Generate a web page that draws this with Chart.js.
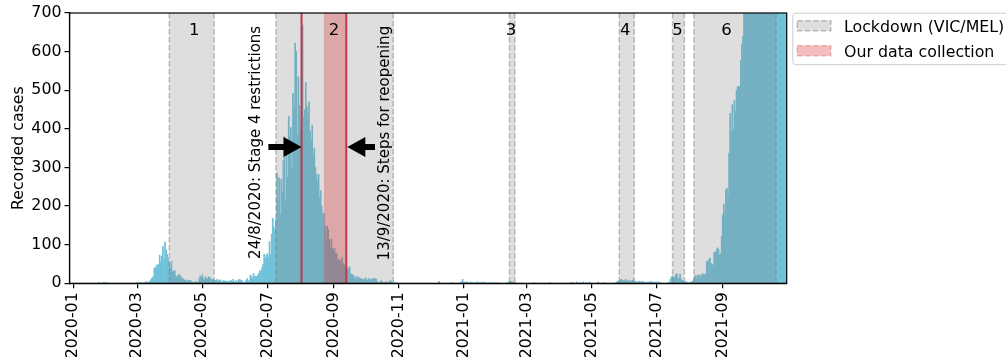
<!DOCTYPE html>
<html>
<head>
<meta charset="utf-8">
<script src="https://cdn.jsdelivr.net/npm/chart.js@4.4.1/dist/chart.umd.min.js"></script>
<style>
  html, body { margin: 0; padding: 0; background: #fff; }
</style>
</head>
<body>
<canvas id="cases" width="1006" height="364"></canvas>
<script>
// daily recorded cases, one row per month starting at firstMonth
var firstMonth = '2020-01';
var casesByMonth = [
   [0,0,0,0,0,0,0,0,0,0, 0,0,0,0,0,0,0,0,0,0, 0,0,0,0,1,0,0,0,1,0, 1],
   [1,0,0,0,0,0,0,0,0,0, 0,0,0,0,0,0,0,0,0,0, 0,0,0,0,0,0,0,0,1],
   [2,0,2,1,0,1,0,1,4,3, 1,3,6,10,14,17,40,38,47,45, 49,73,55,70,95,60,107,86,75,65, 52],
   [39,56,31,30,33,20,14,19,23,20, 17,11,12,8,9,3,8,4,8,7, 4,2,1,3,4,3,2,11,19,14],
   [22,13,8,17,13,10,17,15,10,11, 7,9,8,8,11,7,7,9,5,3, 8,5,6,5,3,6,4,8,5,10, 4],
   [4,8,3,9,10,8,7,3,2,3, 8,12,5,7,21,18,13,25,16,19, 17,20,26,33,30,41,49,75,64,73],
   [77,66,108,74,127,168,147,134,165,285, 216,273,177,270,238,317,380,217,363,275, 432,380,403,300,492,459,622,600,384,535, 460],
   [397,430,669,429,450,520,458,440,470,394, 372,410,331,350,300,280,265,282,222,240, 200,179,182,147,116,148,140,113,94,114, 90],
   [85,90,76,78,59,63,55,60,66,51, 48,45,42,38,35,43,25,24,21,20, 14,11,18,15,14,12,12,10,9,10],
   [15,8,9,12,7,11,5,13,10,12, 11,4,1,3,3,7,2,2,1,4, 1,3,0,7,5,3,0,2,0,1, 0],
   [0,0,0,0,0,0,0,0,0,0, 0,0,0,0,0,0,0,0,0,0, 0,0,0,0,0,0,0,0,0,0],
   [0,0,0,0,0,0,0,0,5,0, 0,0,0,0,0,0,0,0,0,0, 2,0,0,0,0,0,0,0,1,3, 10],
   [3,3,2,4,1,0,2,3,0,1, 2,0,1,4,0,2,1,0,3,0, 1,2,0,0,1,0,2,0,0,1, 0],
   [0,1,0,0,0,0,0,0,0,0, 1,2,3,5,4,3,2,1,0,0, 0,0,0,0,0,0,0,0],
   [0,0,0,0,0,0,0,1,0,0, 0,0,0,0,0,0,0,0,0,0, 0,0,1,0,0,0,0,0,0,0, 0],
   [0,0,0,0,0,0,0,0,0,0, 0,3,0,2,0,0,4,0,0,2, 0,0,3,0,0,2,0,0,3,0],
   [0,0,0,0,0,0,3,0,0,0, 0,0,2,0,0,0,0,0,0,0, 0,0,0,2,4,6,5,8,10,6, 8],
   [7,10,5,6,8,4,6,7,9,5, 4,5,3,4,6,2,5,3,4,2, 3,2,4,1,3,5,2,3,0,3],
   [3,2,3,0,2,0,0,0,0,0, 0,2,3,10,17,19,13,16,22,26, 14,12,24,11,8,6,5,3,4,2, 1],
   [1,3,5,6,11,20,12,20,21,21, 15,21,25,22,24,20,57,55,61,65, 52,50,45,80,79,84,92,88,73,76, 121],
   [177,205,183,242,246,230,337,440,392,462, 397,473,445,500,509,510,509,578,620,640, 766,733,847,779,705,867,950,1438,1143,1220],
   [1377,1763,1638,1420,1466,1638,1965,1838,1890,1612, 1571,1466,2297,1993,2179,1903,1749,1841,2189,1935, 1534,1461,1510,1923,1656,1471,1355,1069,1254,1510, 1471]
];

var tickLabels = ['2020-01', '2020-03', '2020-05', '2020-07', '2020-09', '2020-11',
                  '2021-01', '2021-03', '2021-05', '2021-07', '2021-09'];

var lockdownStart = ['2020-03-31', '2020-07-09', '2021-02-13', '2021-05-27', '2021-07-16', '2021-08-05'];
var lockdownEnd   = ['2020-05-12', '2020-10-27', '2021-02-18', '2021-06-10', '2021-07-27', '2021-10-21'];
var lockdownNames = ['1', '2', '3', '4', '5', '6'];
var lockdownLabelAt = ['2020-04-23', '2020-09-01', '2021-02-14', '2021-06-01', '2021-07-20', '2021-09-04'];

var collectionStart = '2020-08-23';
var collectionEnd = '2020-09-13';
var keyDates = ['2020-08-02', '2020-09-13'];
var keyTexts = ['24/8/2020: Stage 4 restrictions', '13/9/2020: Steps for reopening'];

var legendTexts = ['Lockdown (VIC/MEL)', 'Our data collection'];

// days since 2020-01-01
function dayIndex(iso) {
   var p = iso.split('-');
   var t = Date.UTC(+p[0], +p[1] - 1, p[2] ? +p[2] : 1);
   return Math.round((t - Date.UTC(2020, 0, 1)) / 86400000);
}

var points = [];
casesByMonth.forEach(function (row, m) {
   var y = 2020 + Math.floor(m / 12), mon = m % 12 + 1;
   var first = dayIndex(y + '-' + (mon < 10 ? '0' : '') + mon + '-01');
   row.forEach(function (v, i) { points.push({x: first + i, y: v}); });
});

var tickDays = tickLabels.map(function (l) { return dayIndex(l); });

var FONT = 'DejaVu Sans';
var GRAY_FILL = 'rgba(128,128,128,0.26)';
var GRAY_EDGE = 'rgba(128,128,128,0.5)';
var RED_FILL = 'rgba(214,39,40,0.3)';

function arrow(ctx, xTail, xTip, yc) {
   var dir = xTip > xTail ? 1 : -1;
   var headLen = 18, headHalf = 10, shaftHalf = 3;
   var xBase = xTip - dir * headLen;
   ctx.beginPath();
   ctx.moveTo(xTail, yc - shaftHalf);
   ctx.lineTo(xBase, yc - shaftHalf);
   ctx.lineTo(xBase, yc - headHalf);
   ctx.lineTo(xTip, yc);
   ctx.lineTo(xBase, yc + headHalf);
   ctx.lineTo(xBase, yc + shaftHalf);
   ctx.lineTo(xTail, yc + shaftHalf);
   ctx.closePath();
   ctx.fill();
}

var overlays = {
   id: 'overlays',
   afterDatasetsDraw: function (chart) {
      var ctx = chart.ctx, a = chart.chartArea, xs = chart.scales.x, ys = chart.scales.y;
      ctx.save();
      ctx.beginPath();
      ctx.rect(a.left, a.top, a.right - a.left, a.bottom - a.top);
      ctx.clip();

      // lockdown spans
      for (var i = 0; i < lockdownStart.length; i++) {
         var x0 = xs.getPixelForValue(dayIndex(lockdownStart[i]));
         var x1 = xs.getPixelForValue(dayIndex(lockdownEnd[i]));
         ctx.fillStyle = GRAY_FILL;
         ctx.fillRect(x0, a.top, x1 - x0, a.bottom - a.top);
         ctx.strokeStyle = GRAY_EDGE;
         ctx.lineWidth = 1.5;
         ctx.setLineDash([5.5, 2.5]);
         ctx.beginPath();
         ctx.moveTo(x0, a.top); ctx.lineTo(x0, a.bottom);
         ctx.moveTo(x1, a.top); ctx.lineTo(x1, a.bottom);
         ctx.stroke();
      }
      ctx.setLineDash([]);

      // data collection span
      var c0 = xs.getPixelForValue(dayIndex(collectionStart));
      var c1 = xs.getPixelForValue(dayIndex(collectionEnd));
      ctx.fillStyle = RED_FILL;
      ctx.fillRect(c0, a.top, c1 - c0, a.bottom - a.top);

      // key date lines
      ctx.strokeStyle = 'rgb(190,55,75)';
      ctx.lineWidth = 2;
      keyDates.forEach(function (d) {
         var x = xs.getPixelForValue(dayIndex(d));
         ctx.beginPath(); ctx.moveTo(x, a.top); ctx.lineTo(x, a.bottom); ctx.stroke();
      });

      // annotation texts and arrows
      ctx.fillStyle = '#000';
      ctx.font = '15px "' + FONT + '"';
      ctx.textAlign = 'center';
      ctx.textBaseline = 'middle';
      var textDays = [171.8, 292.3];
      var textVals = [365, 363];
      var tailDays = [182.9, 282.9];
      for (var k = 0; k < keyTexts.length; k++) {
         ctx.save();
         ctx.translate(xs.getPixelForValue(textDays[k]), ys.getPixelForValue(textVals[k]));
         ctx.rotate(-Math.PI / 2);
         ctx.fillText(keyTexts[k], 0, 0);
         ctx.restore();
         arrow(ctx, xs.getPixelForValue(tailDays[k]),
               xs.getPixelForValue(dayIndex(keyDates[k])) + (k === 0 ? 0 : 1),
               ys.getPixelForValue(353));
      }

      // lockdown numbers
      ctx.font = '16.5px "' + FONT + '"';
      for (var j = 0; j < lockdownNames.length; j++) {
         ctx.fillText(lockdownNames[j], xs.getPixelForValue(dayIndex(lockdownLabelAt[j]) + 0.5),
                      ys.getPixelForValue(654));
      }
      ctx.restore();
   },
   afterDraw: function (chart) {
      var ctx = chart.ctx, a = chart.chartArea;
      ctx.save();
      ctx.strokeStyle = '#000';
      ctx.lineWidth = 1.2;
      ctx.strokeRect(a.left, a.top, a.right - a.left, a.bottom - a.top);

      // legend box, to the right of the axes (runs past the canvas edge)
      var lx = a.right + 5.6, ly = 12.7;
      ctx.fillStyle = 'rgba(255,255,255,0.8)';
      ctx.strokeStyle = '#cccccc';
      ctx.lineWidth = 1;
      ctx.beginPath();
      ctx.roundRect(lx + 0.5, ly + 0.5, 240, 51.5, 3);
      ctx.fill();
      ctx.stroke();

      var sx = lx + 5, sw = 33.5;
      ctx.fillStyle = GRAY_FILL;
      ctx.fillRect(sx, ly + 8, sw, 10);
      ctx.strokeStyle = GRAY_EDGE;
      ctx.setLineDash([5.5, 2.5]);
      ctx.lineWidth = 1.5;
      ctx.strokeRect(sx, ly + 8, sw, 10);
      ctx.fillStyle = RED_FILL;
      ctx.fillRect(sx, ly + 33, sw, 10);
      ctx.strokeStyle = RED_FILL;
      ctx.strokeRect(sx, ly + 33, sw, 10);
      ctx.setLineDash([]);

      ctx.fillStyle = '#000';
      ctx.font = '15.8px "' + FONT + '"';
      ctx.textAlign = 'left';
      ctx.textBaseline = 'alphabetic';
      ctx.fillText(legendTexts[0], lx + 51.7, ly + 19.6);
      ctx.fillText(legendTexts[1], lx + 51.7, ly + 43.8);
      ctx.restore();
   }
};

Chart.defaults.font.family = FONT;
Chart.defaults.color = '#000';

var ctx = document.getElementById('cases').getContext('2d');
var chart = new Chart(ctx, {
   type: 'bar',
   data: {
      datasets: [{
         label: 'Recorded cases',
         data: points,
         backgroundColor: 'rgb(112,194,218)',
         borderWidth: 0,
         barPercentage: 1,
         categoryPercentage: 1,
         clip: 0
      }]
   },
   options: {
      responsive: false,
      animation: false,
      layout: { padding: { top: 13, right: 219.3, left: 0, bottom: 0 } },
      plugins: {
         legend: { display: false },
         tooltip: { enabled: false }
      },
      scales: {
         x: {
            type: 'linear',
            min: -3.6,
            max: 669,
            offset: false,
            afterBuildTicks: function (s) {
               s.ticks = tickDays.map(function (v) { return {value: v}; });
            },
            afterFit: function (s) { s.height = 80.7; },
            ticks: {
               autoSkip: false,
               minRotation: 90,
               maxRotation: 90,
               padding: 4,
               color: '#000',
               font: { size: 15.8 },
               callback: function (v) {
                  var i = tickDays.indexOf(v);
                  return i < 0 ? '' : tickLabels[i];
               }
            },
            grid: { offset: false, drawOnChartArea: false, drawTicks: true, tickLength: 5, color: '#000', lineWidth: 1.2 },
            border: { display: true, color: '#000', width: 1.2 }
         },
         y: {
            min: 0,
            max: 700,
            afterFit: function (s) { s.width = 69.5; },
            ticks: { stepSize: 100, padding: 3, color: '#000', font: { size: 15.8 } },
            grid: { drawOnChartArea: false, drawTicks: true, tickLength: 5, color: '#000', lineWidth: 1.2 },
            border: { display: true, color: '#000', width: 1.2 },
            title: {
               display: true,
               text: 'Recorded cases',
               color: '#000',
               font: { size: 15.8 },
               padding: { top: 9.5, bottom: 0 }
            }
         }
      }
   },
   plugins: [overlays]
});
</script>
</body>
</html>
